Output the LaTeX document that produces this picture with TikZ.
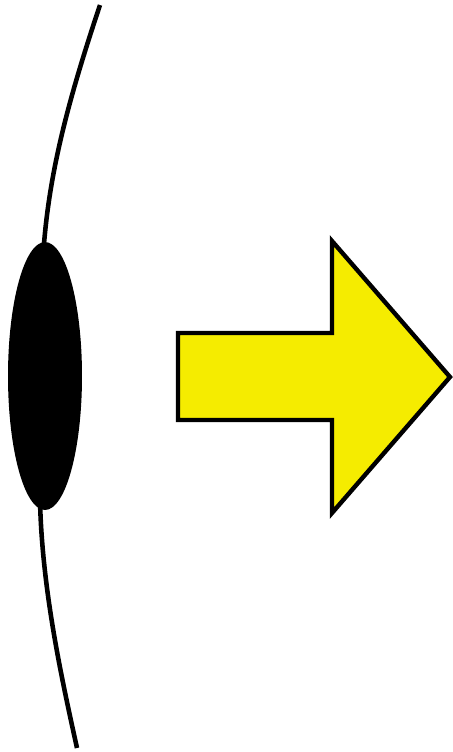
\documentclass[tikz,border=0pt]{standalone}
\definecolor{arrowYellow}{RGB}{245, 236, 0}
\usetikzlibrary{shapes.geometric}

\begin{document}
\begin{tikzpicture}[
      x=0.02cm, y=-0.02cm,
      seed/.style={ellipse, fill=black, minimum width=1.48cm, minimum height=5.36cm, inner sep=0pt},
      stem/.style={line width=2.6pt, black},
      bigarrow/.style={draw=black, fill=arrowYellow, line width=2.5pt, line join=miter}
    ]
      \useasboundingbox (0,0) rectangle (453,752);

      \coordinate (top) at (100,5);
      \coordinate (bottom) at (77,748);
      \coordinate (seedpos) at (45,376);

      % stem first, the seed is drawn over it
      \draw[stem] (top) .. controls (65,110) and (44,190) .. ([xshift=-0.06cm, yshift=-0.8cm]seedpos |- 0,243);
      \draw[stem] ([xshift=-0.1cm]seedpos |- 0,500) .. controls (42,590) and (62,680) .. (bottom);
      \node[seed] (seed) at (seedpos) {};

      \draw[bigarrow] (178,333) -- (332,333) -- (332,241) -- (450,377)
        -- (332,513) -- (332,420) -- (178,420) -- cycle;
    \end{tikzpicture}
\end{document}
